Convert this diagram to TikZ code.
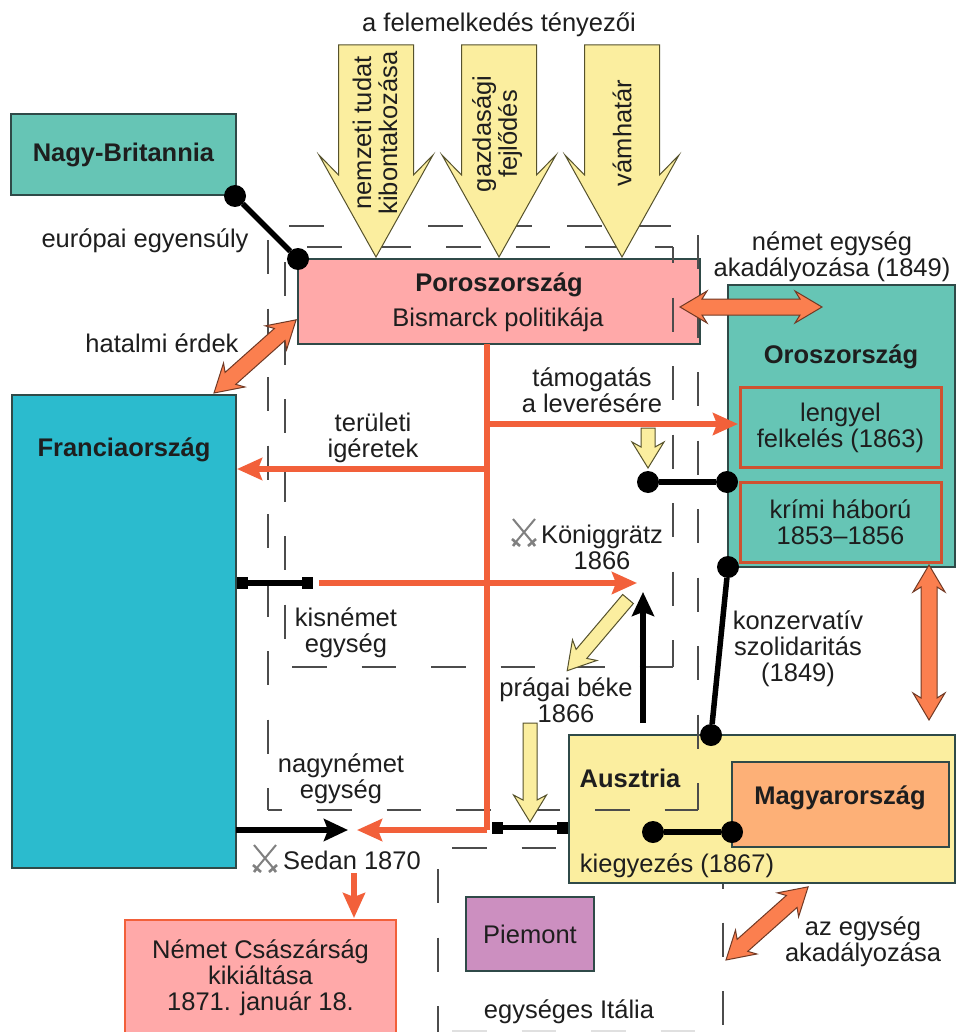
\documentclass[tikz,border=0pt]{standalone}
\usepackage{fontspec}
\setmainfont{Liberation Sans}
\usetikzlibrary{arrows.meta}
\definecolor{tealbox}{HTML}{66C5B5}
\definecolor{fra}{HTML}{2BBBCE}
\definecolor{pink}{HTML}{FFA9A9}
\definecolor{yel}{HTML}{FBEE9F}
\definecolor{mag}{HTML}{FDB077}
\definecolor{pie}{HTML}{CC8FC0}
\definecolor{redl}{HTML}{F2603A}
\definecolor{oran}{HTML}{FB7F4F}
\definecolor{txt}{HTML}{1E1E1E}
\definecolor{edge}{HTML}{2F4A48}
\tikzset{
  txtf/.style={font=\fontsize{25.5}{26}\selectfont,text=txt,align=center,inner sep=0pt,outer sep=0pt},
  boldf/.style={txtf,font=\fontsize{25.5}{26}\selectfont\bfseries},
  boxnode/.style={txtf,draw=edge,line width=1.3pt},
  innerbox/.style={txtf,draw=redl!85!black,fill=tealbox,line width=3pt},
  framedash/.style={draw=black!70,line width=1.3pt},
  vdash/.style={framedash,dash pattern=on 34pt off 34.5pt},
  hdash/.style={framedash,dash pattern=on 34.7pt off 34.8pt},
  redline/.style={draw=redl,line width=6pt},
  redarrow/.style={draw=redl,line width=5.5pt,-{Stealth[length=25pt,width=22pt,inset=4pt]}},
  blackarrow/.style={draw=black,line width=5.5pt,-{Stealth[length=24pt,width=22pt,inset=4pt]}},
  blackline/.style={draw=black,line width=5.5pt},
  dotend/.style={circle,fill=black,minimum size=22pt,inner sep=0pt,outer sep=0pt},
  squareend/.style={rectangle,fill=black,minimum width=11pt,minimum height=12pt,inner sep=0pt,outer sep=0pt},
  yellowblock/.style={draw=black!30!olive!70!black,fill=yel,line width=1pt,line join=miter},
  orangeblock/.style={draw=black!55!oran,fill=oran,line width=1pt},
}
\newcommand\yblock[7]{\begin{scope}[shift={(#1)},rotate=#2]
\draw[yellowblock] (0,#4)--(#3-#7,#4)--(#3-#6,#5)--(#3,0)--(#3-#6,-#5)--(#3-#7,-#4)--(0,-#4)--cycle;
\end{scope}}
\newcommand\oblock[3]{\begin{scope}[shift={(#1)},rotate=#2]
\draw[orangeblock] (0,0)--(27,16)--(22,8)--(#3-22,8)--(#3-27,16)--(#3,0)--(#3-27,-16)--(#3-22,-8)--(22,-8)--(27,-16)--cycle;
\end{scope}}
\newcommand\swordsicon[1]{\begin{scope}[shift={(#1)}]
\draw[black!50,line width=2pt] (-11,-14)--(9,10) (11,-14)--(-9,10);
\draw[black!50,line width=2.6pt] (-12,6)--(-4,13) (12,6)--(4,13) (-11,13)--(-8,9) (11,13)--(8,9);
\end{scope}}
\begin{document}
\begin{tikzpicture}[x=1pt,y=-1pt]
\useasboundingbox (0,0) rectangle (956,1032);
\fill[white] (0,0) rectangle (956,1032);

% Italy frame (under Austria)
\draw[vdash,dash phase=0pt] (438,869)--(438,1032);
\draw[vdash,dash phase=0pt] (723,854)--(723,1032);
\draw[hdash] (452,848)--(560,848);
\draw[hdash,draw=black!12] (452,1031)--(720,1031);

% boxes
\node[boxnode,fill=tealbox,minimum width=225pt,minimum height=81pt,font=\fontsize{25.5}{26}\selectfont\bfseries] (nb) at (123.5,154.5) {Nagy-Britannia};
\node[boxnode,fill=fra,minimum width=224pt,minimum height=473pt] (fr) at (124,631.5) {};
\node[boxnode,fill=pink,minimum width=402pt,minimum height=85pt] (pr) at (499,301.5) {};
\node[boxnode,fill=tealbox,minimum width=227pt,minimum height=282pt] (ru) at (841.5,426) {};
\node[innerbox,minimum width=201pt,minimum height=80pt] (pl) at (840.5,427.5) {lengyel\\felkelés (1863)};
\node[innerbox,minimum width=201pt,minimum height=80pt] (kr) at (840.5,522) {krími háború\\1853–1856};
\node[boxnode,fill=yel,minimum width=386pt,minimum height=148pt] (au) at (762,809) {};
\node[boxnode,fill=mag,minimum width=217pt,minimum height=85pt] (hu) at (840.5,804.5) {};
\node[boxnode,fill=pie,minimum width=128pt,minimum height=74pt] (pi) at (530,934) {Piemont};
\node[boxnode,draw=redl,fill=pink,line width=2pt,minimum width=271pt,minimum height=116pt] (de) at (260.5,978) {Német Császárság\\kikiáltása\\1871. január 18.};

% dashed frames
\draw[vdash] (268,240)--(268,810);
\draw[hdash,dash phase=20.5pt] (268,810)--(698,810);
\draw[vdash] (698,235)--(698,810);
\draw[hdash] (289,226)--(672,226);
\draw[vdash] (285,262)--(285,640);
\draw[hdash] (292,667)--(673,667);
\draw[vdash,dash phase=18pt] (673,247)--(673,667);
\draw[hdash] (307,247)--(673,247);
\draw[vdash,dash phase=30pt] (723,885)--(723,890);

% big yellow arrows
\yblock{376,45}{-90}{212}{37.5}{57}{102}{82}
\yblock{499,45}{-90}{212}{37.5}{57}{102}{82}
\yblock{622,45}{-90}{212}{37.5}{57}{102}{82}
\node[txtf,rotate=90] (t1) at (375,133) {nemzeti tudat\\kibontakozása};
\node[txtf,rotate=90] (t2) at (497,134) {gazdasági\\fejlődés};
\node[txtf,rotate=90] (t3) at (622,133) {vámhatár};
% small yellow arrows
\yblock{648,428}{-90}{40}{7}{16}{26}{21}
\yblock{628,599}{229.7}{94}{7}{16}{27}{22}
\yblock{530,723}{-90}{99}{7}{16.5}{27}{22}

% orange double arrows
\oblock{680,307}{0}{142}
\oblock{929,720}{90}{155}
\oblock{214,393}{41.7}{110}
\oblock{726,960}{41.7}{110}

% red connectors
\coordinate (j0) at (487,344);
\coordinate (jb) at (487,830);
\coordinate (ja) at (487,424);
\coordinate (jf) at (487,469);
\coordinate (ftip) at (237,469);
\coordinate (ptip) at (738,424);
\coordinate (ks) at (319,583);
\coordinate (kt) at (637,583);
\coordinate (st) at (357,830);
\coordinate (se) at (354,873);
\coordinate (sd) at (354,918);
\draw[redline] (j0)--(jb);
\draw[redarrow] (jb)--(st);
\draw[redarrow] (ja)--(ptip);
\draw[redarrow] (jf)--(ftip);
\draw[redarrow] (ks)--(kt);
\draw[redarrow] (se)--(sd);

% black arrows
\coordinate (fa) at (236,830);
\coordinate (fb) at (348,830);
\coordinate (ua) at (643,723);
\coordinate (ub) at (643,592);
\draw[blackarrow] (fa)--(fb);
\draw[blackarrow] (ua)--(ub);

% black links
\node[dotend] (d1) at (235,196) {};
\node[dotend] (d2) at (298,259) {};
\node[dotend] (d3) at (648,482) {};
\node[dotend] (d4) at (727,482) {};
\node[dotend] (d5) at (728,567) {};
\node[dotend] (d6) at (711,735) {};
\node[dotend] (d7) at (653,832) {};
\node[dotend] (d8) at (732,832) {};
\node[squareend] (s1) at (242.5,583) {};
\node[squareend] (s2) at (307.5,583) {};
\node[squareend] (s3) at (497.5,827.5) {};
\node[squareend] (s4) at (562,827.5) {};
\draw[blackline] (d1)--(d2);
\draw[blackline] (d3)--(d4);
\draw[blackline] (d5)--(d6);
\draw[blackline] (d7)--(d8);
\draw[blackline] (s1)--(s2);
\draw[blackline] (s3)--(s4);

% swords
\swordsicon{524,533}
\swordsicon{265,859}

% labels
\node[txtf] (a1) at (499,25) {a felemelkedés tényezői};
\node[txtf] (a2) at (145,241) {európai egyensúly};
\node[txtf] (a3) at (162,343) {hatalmi érdek};
\node[boldf] (a4) at (124,450) {Franciaország};
\node[boldf] (a5) at (499,285) {Poroszország};
\node[txtf] (a6) at (498,320) {Bismarck politikája};
\node[txtf] (a7) at (832,256.5) {német egység\\akadályozása (1849)};
\node[boldf] (a8) at (841,357) {Oroszország};
\node[txtf] (a9) at (592,390) {támogatás\\a leverésére};
\node[txtf] (a10) at (373,437.5) {területi\\igéretek};
\node[txtf] (a11) at (602,547) {Königgrätz\\1866};
\node[txtf] (a12) at (346,633) {kisnémet\\egység};
\node[txtf] (a13) at (566,700) {prágai béke\\1866};
\node[txtf] (a14) at (341,778.5) {nagynémet\\egység};
\node[txtf] (a15) at (352,860) {Sedan 1870};
\node[txtf] (a16) at (569,1012) {egységes Itália};
\node[txtf] (a17) at (798,648.5) {konzervatív\\szolidaritás\\(1849)};
\node[boldf] (a18) at (630,778) {Ausztria};
\node[boldf] (a19) at (840,798) {Magyarország};
\node[txtf] (a20) at (677,866) {kiegyezés (1867)};
\node[txtf] (a21) at (863,942) {az egység\\akadályozása};
\end{tikzpicture}
\end{document}
